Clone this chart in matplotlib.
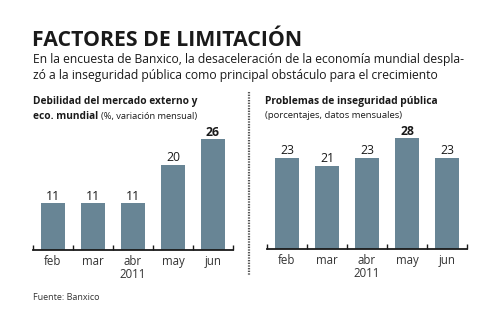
import matplotlib.pyplot as plt
from matplotlib.lines import Line2D

months = ["feb", "mar", "abr", "may", "jun"]
year = "2011"
debilidad = [11, 11, 11, 20, 26]
inseguridad = [23, 21, 23, 28, 23]

BAR = "#688595"
INK = "#1a1a1a"
FONT = "Open Sans"

fig = plt.figure(figsize=(5.0, 3.27), dpi=100)
W, H = 500, 327


def fx(px):
    return px / W


def fy(py):
    return 1 - py / H


fig.text(fx(32), fy(46), "FACTORES DE LIMITACIÓN", fontsize=15.3, fontweight="bold",
         family=FONT, color=INK, va="baseline")
fig.text(fx(33), fy(63), "En la encuesta de Banxico, la desaceleración de la economía mundial despla-",
         fontsize=8.7, family=FONT, color=INK, va="baseline")
fig.text(fx(33), fy(79), "zó a la inseguridad pública como principal obstáculo para el crecimiento",
         fontsize=8.7, family=FONT, color=INK, va="baseline")

fig.text(fx(33), fy(104), "Debilidad del mercado externo y", fontsize=7.3, fontweight="bold",
         family=FONT, color=INK, va="baseline")
eco = fig.text(fx(33), fy(119), "eco. mundial", fontsize=7.3, fontweight="bold",
               family=FONT, color=INK, va="baseline")
fig.canvas.draw()
eco_end = eco.get_window_extent().x1
fig.text((eco_end + 3) / W, fy(119), "(%, variación mensual)", fontsize=6.7,
         family=FONT, color=INK, va="baseline")

fig.text(fx(265), fy(104), "Problemas de inseguridad pública", fontsize=7.4, fontweight="bold",
         family=FONT, color=INK, va="baseline")
fig.text(fx(265), fy(118), "(porcentajes, datos mensuales)", fontsize=6.8,
         family=FONT, color=INK, va="baseline")

fig.text(fx(33), fy(300), "Fuente: Banxico", fontsize=6.5, family=FONT, color="#333333",
         va="baseline")

# dotted divider
fig.add_artist(Line2D([fx(249), fx(249)], [fy(92), fy(275)], transform=fig.transFigure,
                      color="#555555", lw=1.6, linestyle=(0, (0.6, 0.6))))


def panel(x0, x1, base, values):
    top = 130
    ax = fig.add_axes([fx(x0), fy(base), fx(x1) - fx(x0), (base - top) / H])
    peak = max(values)
    ax.set_ylim(0, peak * (base - top) / 111)
    ax.set_xlim(-0.5, len(values) - 0.5)
    xs = range(len(values))
    ax.bar(xs, values, width=0.58, color=BAR)
    for x, v in zip(xs, values):
        ax.annotate(str(v), (x, v), xytext=(0, 0.3), textcoords="offset points",
                    ha="center", va="bottom", fontsize=8.8, family=FONT, color=INK,
                    fontweight="bold" if v == peak else "normal")
    for s in ["top", "right", "left"]:
        ax.spines[s].set_visible(False)
    ax.spines["bottom"].set_linewidth(1.3)
    ax.spines["bottom"].set_color(INK)
    ax.set_yticks([])
    ax.set_xticks([i - 0.5 for i in range(len(values) + 1)])
    ax.tick_params(axis="x", direction="in", length=3.5, width=1, color=INK, labelbottom=False)
    for x, m in zip(xs, months):
        lab = m if m != "abr" else m + "\n" + year
        ax.text(x, -0.04, lab, transform=ax.get_xaxis_transform(), ha="center", va="top",
                fontsize=8.3, family=FONT, color="#333333", linespacing=1.0)
    return ax


panel(33, 233, 250, debilidad)
panel(267, 467, 249, inseguridad)

fig.savefig("out.png", dpi=100)
